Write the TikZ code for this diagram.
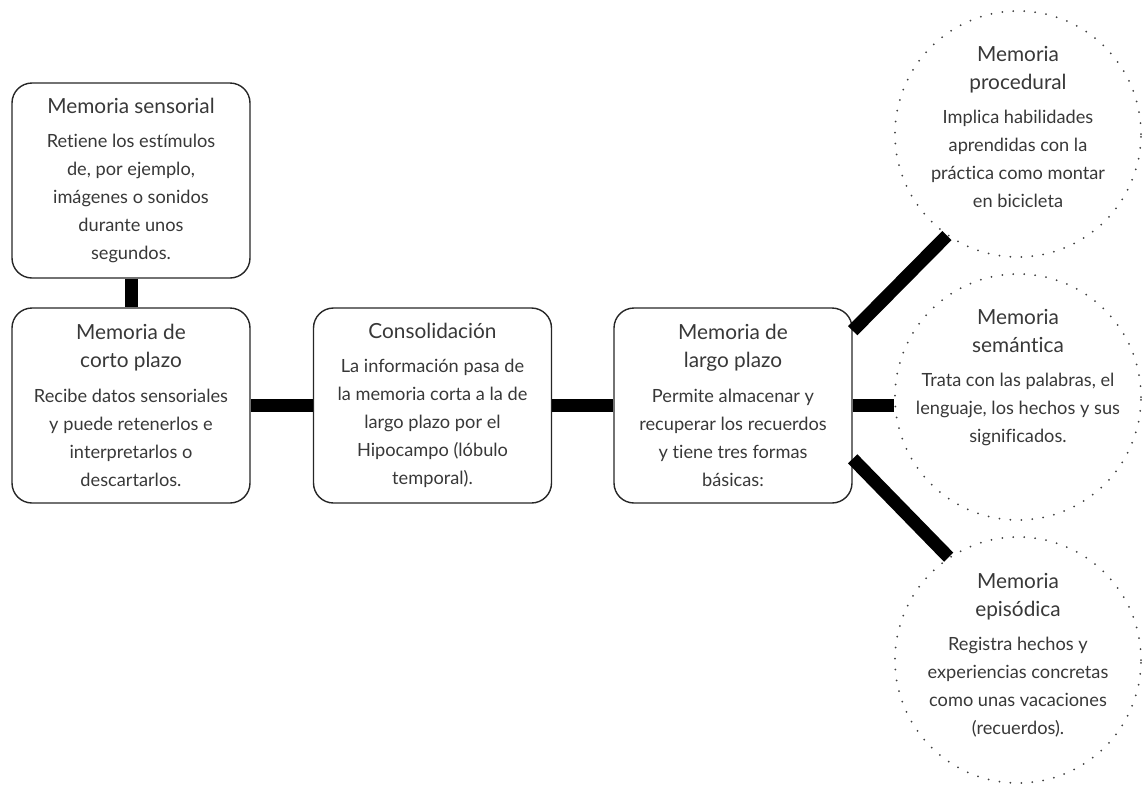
\documentclass[tikz,border=0pt]{standalone}
\usepackage{fontspec}
\setmainfont{Lato}[Ligatures=NoCommon]
\usepackage{xcolor}
\usetikzlibrary{positioning}

\newcommand{\titre}[1]{{\fontsize{10.4}{14.25}\selectfont #1}}

\tikzset{
    boite/.style={draw=black!85, line width=0.7pt, rounded corners=10pt,
        minimum width=119pt, minimum height=97.5pt, inner sep=0pt,
        align=center, text=black!78, font=\fontsize{9.1}{14}\selectfont},
    cercle/.style={circle, draw=black!75, line width=1pt, line cap=round,
        dash pattern=on 0pt off 5.5pt, minimum size=123pt, inner sep=0pt},
    texte/.style={align=center, text=black!78, inner sep=0pt,
        font=\fontsize{9.1}{14}\selectfont},
    lien/.style={line width=6.5pt, black}
}

\begin{document}
\begin{tikzpicture}[x=0.5pt, y=-0.5pt]
    \useasboundingbox (0,0) rectangle (1147,784);

    % Boîtes du diagramme
    \node[boite] (sens) at (131,180.5) {\titre{Memoria sensorial}\\[3.2pt]
        Retiene los estímulos\\de, por ejemplo,\\imágenes o sonidos\\durante unos\\segundos.};
    \node[boite] (corto) at (131,405.5) {\titre{Memoria de}\\\titre{corto plazo}\\[3.2pt]
        Recibe datos sensoriales\\y puede retenerlos e\\interpretarlos o\\descartarlos.};
    \node[boite] (conso) at (432.5,405.5) {\titre{Consolidación}\\[3.2pt]
        La información pasa de\\la memoria corta a la de\\largo plazo por el\\Hipocampo (lóbulo\\temporal).};
    \node[boite] (largo) at (733,405.5) {\titre{Memoria de}\\\titre{largo plazo}\\[3.2pt]
        Permite almacenar y\\recuperar los recuerdos\\y tiene tres formas\\básicas:};

    % Cercles des trois formes
    \node[cercle] (proc) at (1018,134) {};
    \node[cercle] (sem) at (1018,397) {};
    \node[cercle] (epi) at (1018,660) {};

    \node[texte, below=18pt of proc.north] {\titre{Memoria}\\\titre{procedural}\\[3.2pt]
        Implica habilidades\\aprendidas con la\\práctica como montar\\en bicicleta};
    \node[texte, below=18pt of sem.north] {\titre{Memoria}\\\titre{semántica}\\[3.2pt]
        Trata con las palabras, el\\lenguaje, los hechos y sus\\significados.};
    \node[texte, below=18.5pt of epi.north] {\titre{Memoria}\\\titre{episódica}\\[3.2pt]
        Registra hechos y\\experiencias concretas\\como unas vacaciones\\(recuerdos).};

    % Liens
    \draw[lien] (sens) -- (corto);
    \draw[lien] (corto) -- (conso);
    \draw[lien] (conso) -- (largo);
    \draw[lien] (largo.32) -- (proc.235);
    \draw[lien] (largo.east) -- (largo.east -| sem.west);
    \draw[lien] (largo.-24) -- (epi.124);
\end{tikzpicture}
\end{document}
